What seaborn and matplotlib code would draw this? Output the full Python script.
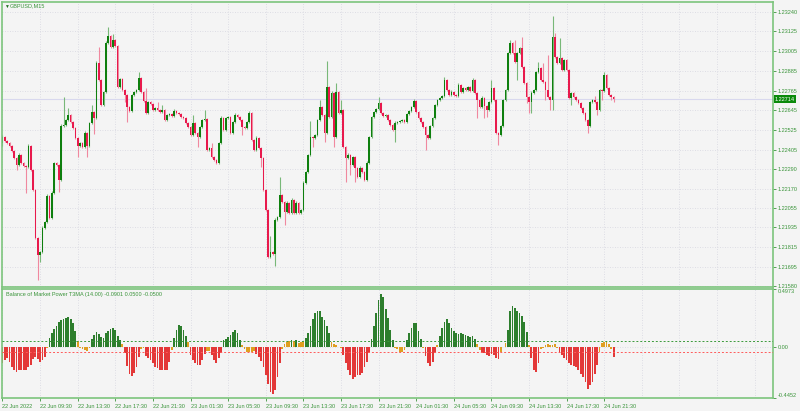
import numpy as np
import pandas as pd
import matplotlib
matplotlib.use("Agg")
import matplotlib.pyplot as plt
import matplotlib.transforms as mtransforms
import seaborn as sns

# ---------------- data ----------------
symbol_title = "GBPUSD,M15"
ind_title = "Balance of Market Power T3MA (14.00) -0.0901 0.0500 -0.0500"

# prices in points above 1.00000 (1 point = 0.00001)
first_open_pts = 22447
close_pts = [
    22483, 22459, 22447, 22429, 22398, 22356, 22313, 22374, 22326, 22307,
    22301, 22429, 22283, 22162, 21870, 21767, 21785, 21931, 21968, 22125,
    21992, 22144, 22326, 22313, 22222, 22550, 22556, 22587, 22617, 22574,
    22538, 22477, 22429, 22447, 22423, 22508, 22429, 22568, 22635, 22599,
    22933, 22829, 22678, 22757, 23054, 23096, 23030, 23072, 23036, 22787,
    22835, 22769, 22738, 22666, 22641, 22738, 22757, 22769, 22842, 22757,
    22702, 22629, 22696, 22684, 22647, 22659, 22647, 22635, 22647, 22587,
    22617, 22623, 22611, 22641, 22629, 22623, 22605, 22599, 22568, 22544,
    22495, 22568, 22508, 22483, 22544, 22587, 22593, 22404, 22417, 22362,
    22344, 22326, 22447, 22599, 22526, 22599, 22605, 22508, 22574, 22617,
    22605, 22587, 22544, 22538, 22574, 22629, 22465, 22404, 22477, 22417,
    22356, 22162, 22040, 21755, 21785, 21773, 21980, 21998, 22131, 22089,
    22028, 22083, 22022, 22101, 22022, 22083, 22022, 22040, 22204, 22271,
    22374, 22483, 22477, 22495, 22587, 22666, 22617, 22508, 22787, 22605,
    22751, 22483, 22757, 22629, 22647, 22423, 22356, 22374, 22313, 22362,
    22295, 22241, 22295, 22271, 22222, 22326, 22483, 22605, 22635, 22653,
    22690, 22629, 22611, 22617, 22587, 22556, 22526, 22568, 22574, 22580,
    22587, 22574, 22623, 22641, 22666, 22702, 22635, 22599, 22574, 22544,
    22495, 22477, 22550, 22599, 22678, 22708, 22720, 22732, 22829, 22769,
    22738, 22757, 22738, 22732, 22799, 22757, 22781, 22769, 22787, 22763,
    22829, 22751, 22708, 22666, 22720, 22672, 22647, 22696, 22781, 22708,
    22508, 22495, 22550, 22708, 22769, 22993, 23054, 22993, 22939, 22993,
    23024, 22908, 22811, 22726, 22696, 22751, 22769, 22878, 22902, 22829,
    22817, 22769, 22726, 22708, 23090, 22969, 22933, 22963, 22890, 22951,
    22890, 22720, 22751, 22726, 22708, 22690, 22659, 22629, 22587, 22550,
    22696, 22708, 22696, 22647, 22769, 22763, 22860, 22781, 22738, 22726,
    22714,
]
upper_wick_pts = [
    12, 6, 6, 6, 6, 6, 6, 12, 6, 6,
    6, 12, 6, 6, 6, 6, 6, 12, 6, 12,
    6, 12, 6, 6, 6, 12, 170, 6, 42, 6,
    6, 6, 6, 6, 6, 12, 6, 6, 42, 6,
    12, 96, 6, 6, 12, 55, 6, 36, 6, 6,
    6, 6, 6, 6, 6, 6, 6, 6, 36, 6,
    6, 78, 6, 6, 6, 6, 36, 6, 30, 6,
    6, 6, 6, 12, 6, 6, 6, 6, 6, 6,
    6, 48, 6, 6, 6, 6, 54, 6, 6, 30,
    6, 6, 6, 12, 6, 6, 6, 6, 6, 12,
    6, 6, 6, 6, 6, 12, 6, 6, 12, 6,
    6, 6, 6, 6, 100, 6, 12, 6, 108, 6,
    6, 12, 6, 12, 6, 12, 6, 6, 12, 6,
    6, 100, 6, 6, 6, 42, 6, 6, 158, 6,
    12, 6, 54, 6, 60, 6, 6, 12, 6, 6,
    6, 6, 12, 6, 6, 12, 6, 6, 6, 6,
    36, 6, 6, 6, 6, 6, 6, 12, 6, 6,
    6, 6, 6, 6, 6, 12, 6, 6, 6, 6,
    6, 6, 6, 6, 6, 6, 6, 6, 18, 6,
    6, 12, 6, 6, 12, 6, 6, 6, 6, 6,
    12, 6, 6, 6, 12, 6, 6, 6, 48, 6,
    6, 6, 6, 6, 6, 6, 18, 6, 78, 6,
    6, 66, 6, 6, 6, 12, 6, 6, 36, 6,
    102, 6, 210, 6, 128, 24, 6, 120, 6, 6,
    6, 6, 6, 6, 6, 6, 6, 6, 6, 6,
    6, 6, 24, 6, 6, 6, 18, 6, 6, 6,
    6,
]
lower_wick_pts = [
    18, 6, 6, 6, 6, 6, 30, 6, 6, 6,
    156, 6, 6, 6, 6, 152, 42, 6, 6, 6,
    6, 6, 6, 6, 72, 6, 6, 6, 6, 6,
    6, 6, 66, 6, 6, 6, 66, 6, 6, 100,
    6, 6, 6, 6, 6, 6, 6, 6, 6, 6,
    6, 6, 42, 90, 6, 6, 6, 6, 6, 6,
    6, 6, 6, 6, 6, 6, 6, 6, 6, 6,
    6, 6, 6, 6, 6, 6, 6, 6, 6, 6,
    6, 6, 6, 60, 6, 6, 6, 6, 6, 6,
    6, 6, 6, 6, 6, 6, 6, 6, 6, 6,
    6, 6, 48, 6, 6, 6, 6, 6, 6, 6,
    54, 6, 6, 6, 6, 6, 72, 6, 6, 6,
    78, 6, 6, 6, 6, 6, 6, 6, 6, 6,
    6, 6, 54, 6, 6, 6, 6, 54, 6, 6,
    6, 60, 6, 6, 6, 6, 144, 6, 60, 6,
    84, 6, 6, 6, 6, 6, 6, 6, 6, 6,
    6, 6, 6, 6, 6, 6, 6, 72, 6, 6,
    6, 6, 6, 6, 6, 6, 6, 6, 6, 6,
    90, 6, 6, 6, 6, 6, 6, 6, 6, 6,
    6, 6, 6, 6, 6, 6, 6, 6, 6, 6,
    6, 6, 108, 6, 6, 72, 42, 6, 6, 6,
    6, 60, 6, 6, 6, 6, 6, 6, 6, 108,
    6, 6, 6, 36, 66, 66, 6, 6, 6, 6,
    6, 60, 6, 60, 60, 6, 6, 6, 6, 6,
    6, 6, 42, 6, 6, 6, 6, 6, 6, 42,
    6, 6, 6, 30, 6, 54, 6, 6, 6, 18,
    20,
]
bmp_values = [
    -0.146, -0.117, -0.102, -0.132, -0.175, -0.205, -0.219, -0.205, -0.205, -0.205,
    -0.199, -0.181, -0.161, -0.111, -0.088, -0.111, -0.132, -0.117, -0.094, -0.015,
    0.073, 0.117, 0.152, 0.181, 0.211, 0.228, 0.240, 0.249, 0.257, 0.240,
    0.205, 0.132, 0.045, -0.009, -0.020, -0.029, -0.035, -0.015, 0.064, 0.102,
    0.123, 0.111, 0.082, 0.073, 0.117, 0.137, 0.152, 0.161, 0.146, 0.088,
    0.053, 0.023, -0.058, -0.170, -0.234, -0.251, -0.228, -0.181, -0.094, -0.020,
    -0.015, -0.082, -0.102, -0.117, -0.146, -0.175, -0.190, -0.199, -0.199, -0.205,
    -0.205, -0.132, -0.029, 0.073, 0.146, 0.190, 0.175, 0.146, 0.088, 0.035,
    -0.073, -0.117, -0.146, -0.161, -0.161, -0.117, -0.064, -0.035, -0.035, -0.073,
    -0.117, -0.146, -0.102, -0.053, 0.058, 0.067, 0.082, 0.102, 0.123, 0.146,
    0.117, 0.058, 0.010, -0.023, -0.044, -0.044, -0.044, -0.035, -0.064, -0.088,
    -0.123, -0.175, -0.249, -0.322, -0.395, -0.409, -0.380, -0.263, -0.146, -0.023,
    0.023, 0.035, 0.048, 0.058, 0.044, 0.058, 0.029, 0.035, 0.044, 0.073,
    0.117, 0.175, 0.240, 0.292, 0.307, 0.307, 0.257, 0.228, 0.181, 0.117,
    0.041, 0.023, 0.015, -0.005, -0.015, -0.073, -0.140, -0.199, -0.249, -0.278,
    -0.263, -0.249, -0.249, -0.228, -0.181, -0.132, -0.058, 0.064, 0.175, 0.292,
    0.404, 0.453, 0.424, 0.322, 0.249, 0.146, 0.053, -0.009, -0.023, -0.044,
    -0.044, -0.029, 0.058, 0.117, 0.161, 0.205, 0.199, 0.132, 0.064, -0.015,
    -0.082, -0.140, -0.170, -0.132, -0.053, 0.015, 0.088, 0.161, 0.211, 0.234,
    0.205, 0.161, 0.132, 0.117, 0.111, 0.117, 0.111, 0.102, 0.088, 0.082,
    0.094, 0.064, 0.023, -0.029, -0.052, -0.058, -0.073, -0.082, -0.064, -0.076,
    -0.096, -0.105, -0.044, -0.005, 0.029, 0.146, 0.307, 0.351, 0.336, 0.307,
    0.292, 0.263, 0.211, 0.123, 0.015, -0.102, -0.199, -0.219, -0.146, -0.023,
    -0.009, 0.015, 0.020, 0.015, 0.015, 0.020, -0.009, -0.055, -0.073, -0.102,
    -0.117, -0.146, -0.161, -0.170, -0.181, -0.199, -0.234, -0.263, -0.307, -0.365,
    -0.336, -0.307, -0.234, -0.161, -0.044, 0.030, 0.040, 0.035, 0.020, -0.020,
    -0.0901,
]

price_ticks = [1.23240, 1.23125, 1.23005, 1.22885, 1.22765, 1.22645, 1.22525,
               1.22405, 1.22290, 1.22170, 1.22055, 1.21935, 1.21815, 1.21695, 1.21580]
time_labels = ["22 Jun 2022", "22 Jun 09:30", "22 Jun 13:30", "22 Jun 17:30",
               "22 Jun 21:30", "23 Jun 01:30", "23 Jun 05:30", "23 Jun 09:30",
               "23 Jun 13:30", "23 Jun 17:30", "23 Jun 21:30", "24 Jun 01:30",
               "24 Jun 05:30", "24 Jun 09:30", "24 Jun 13:30", "24 Jun 17:30",
               "24 Jun 21:30"]
last_price = 1.22714
bmp_levels = [0.05, -0.05]
bmp_ticks = [0.4973, 0.0, -0.4452]
bmp_ticklabels = ["0.4973", "0.00", "-0.4452"]

n = len(close_pts)
assert len(upper_wick_pts) == n and len(lower_wick_pts) == n and len(bmp_values) == n, \
    (n, len(upper_wick_pts), len(lower_wick_pts), len(bmp_values))

# ---------------- colours ----------------
BG = "#f4f4f4"
FRAME = "#7cc47c"
TXT = "#3a943a"
GRID = "#d6d6e0"
BULL, BEAR = "#0e7f0e", "#e8194c"
BULL_W, BEAR_W = "#78b878", "#f0889f"

sns.set_theme(style="white", rc={"axes.facecolor": BG, "figure.facecolor": BG})
plt.rcParams["font.family"] = ["Liberation Sans", "DejaVu Sans"]

fig = plt.figure(figsize=(8, 4.11), dpi=100)
ax = fig.add_axes([2 / 800, 1 - 287 / 411, 771 / 800, 285 / 411])
ax2 = fig.add_axes([2 / 800, 1 - 398 / 411, 771 / 800, 109 / 411])

# ---------------- candles ----------------
closes = 1.0 + np.array(close_pts) / 1e5
opens = np.concatenate([[1.0 + first_open_pts / 1e5], closes[:-1]])
top = np.maximum(opens, closes)
bot = np.minimum(opens, closes)
highs = top + np.array(upper_wick_pts) / 1e5
lows = bot - np.array(lower_wick_pts) / 1e5
idx = np.arange(n)
bull = closes >= opens

xmax = 327.8
for a in (ax, ax2):
    for g in range(0, 321, 16):
        a.axvline(g, color=GRID, lw=0.6, ls=(0, (1, 2)), zorder=0)
for p in price_ticks:
    ax.axhline(p, color=GRID, lw=0.6, ls=(0, (1, 2)), zorder=0)
ax.axhline(last_price, color="#d8d8ee", lw=0.8, zorder=0.5)

ax.vlines(idx[bull], lows[bull], highs[bull], color=BULL_W, lw=0.8, zorder=1)
ax.vlines(idx[~bull], lows[~bull], highs[~bull], color=BEAR_W, lw=0.8, zorder=1)
hgt = np.maximum(top - bot, 0.00003)
ax.bar(idx[bull], hgt[bull], bottom=bot[bull], width=0.7, color=BULL, linewidth=0, zorder=2)
ax.bar(idx[~bull], hgt[~bull], bottom=bot[~bull], width=0.7, color=BEAR, linewidth=0, zorder=2)

ax.set_xlim(-0.2, xmax)
ax.set_ylim(1.21573, 1.23303)
ax.yaxis.tick_right()
ax.set_yticks(price_ticks)
ax.set_yticklabels([f"{p:.5f}" for p in price_ticks])
ax.tick_params(axis="y", direction="out", length=2.5, width=0.6, colors=TXT,
               labelsize=4, pad=1, right=True, left=False)
ax.tick_params(axis="x", bottom=False, labelbottom=False)

trans = mtransforms.blended_transform_factory(ax.transAxes, ax.transData)
ax.text(1.0025, last_price, f"{last_price:.5f}", transform=trans, ha="left", va="center",
        fontsize=4, color="white", zorder=5, clip_on=False,
        bbox=dict(boxstyle="square,pad=0.25", fc="#0a8a0a", ec="none"))

# ---------------- indicator ----------------
df = pd.DataFrame({"bar": idx, "bmp": bmp_values})
df["zone"] = np.where(df["bmp"] > 0.05, "up", np.where(df["bmp"] < -0.05, "down", "flat"))
sns.barplot(data=df, x="bar", y="bmp", hue="zone", native_scale=True, dodge=False,
            palette={"up": "#1f8c1f", "down": "#ff1c1c", "flat": "#ffa800"},
            width=0.75, linewidth=0, errorbar=None, legend=False, ax=ax2, zorder=2)
ax2.axhline(0, color=GRID, lw=0.6, ls=(0, (1, 2)), zorder=0)
ax2.axhline(bmp_levels[0], color="#3a9a3a", lw=0.7, ls=(0, (2, 2)), zorder=3)
ax2.axhline(bmp_levels[1], color="#ff5a5a", lw=0.7, ls=(0, (2, 2)), zorder=3)

ax2.set_xlim(-0.2, xmax)
ax2.set_ylim(-0.4452, 0.4973)
ax2.set_xlabel("")
ax2.set_ylabel("")
ax2.yaxis.tick_right()
ax2.set_yticks(bmp_ticks)
ax2.set_yticklabels(bmp_ticklabels)
ax2.tick_params(axis="y", direction="out", length=2.5, width=0.6, colors=TXT,
                labelsize=4, pad=1, right=True, left=False)
ylabs = ax2.get_yticklabels()
ylabs[0].set_va("top")
ylabs[2].set_va("bottom")

ax2.set_xticks(range(0, 257, 16))
ax2.set_xticklabels(time_labels, ha="left")
ax2.tick_params(axis="x", direction="out", length=2.5, width=0.6, colors=TXT,
                labelsize=4, pad=1.5, bottom=True)

for a in (ax, ax2):
    for s in a.spines.values():
        s.set_color(FRAME)
        s.set_linewidth(1.2)

fig.text(4 / 800, 1 - 6 / 411, "\u25bc", fontsize=3.5, color="#1d6e1d", va="center", ha="left")
fig.text(10 / 800, 1 - 6 / 411, symbol_title, fontsize=4, color=TXT, va="center", ha="left")
fig.text(6 / 800, 1 - 294 / 411, ind_title, fontsize=4, color=TXT, va="center", ha="left")

fig.savefig("out.png", dpi=100, facecolor=BG)
